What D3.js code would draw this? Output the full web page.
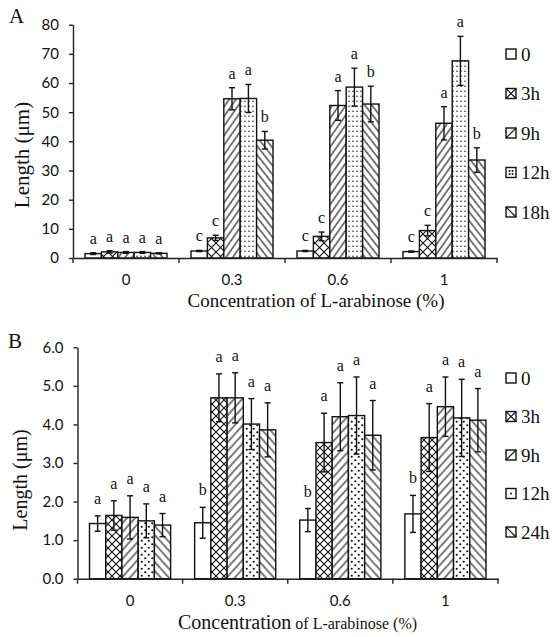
<!DOCTYPE html>
<html>
<head>
<meta charset="utf-8">
<script src="https://cdn.jsdelivr.net/npm/d3@7"></script>
<style>
  body { margin: 0; background: #fff; }
  .axis path, .axis line { stroke: #222; stroke-width: 1.4; }
  .axis text { font-family: Lato, "Open Sans", sans-serif; font-size: 15px; fill: #111; }
  .serif { font-family: "Liberation Serif", "DejaVu Serif", serif; fill: #111; }
</style>
</head>
<body>
<svg id="chart" width="554" height="637"></svg>
<script>
// categories shared by both panels
var categories = ["0", "0.3", "0.6", "1"];

// Panel A
var seriesA = ["0", "3h", "9h", "12h", "18h"];
var lengthA = [
    [1.5, 2.1, 1.9, 1.9, 1.6],
    [2.4, 6.9, 54.6, 54.7, 40.4],
    [2.4, 7.4, 52.3, 58.6, 52.8],
    [2.2, 9.4, 46.2, 67.6, 33.6]
];
var errorA = [
    [0.3, 0.4, 0.3, 0.3, 0.2],
    [0.2, 0.9, 3.8, 4.8, 3.0],
    [0.2, 1.5, 5.1, 6.5, 6.1],
    [0.2, 1.8, 5.7, 8.4, 4.2]
];
var lettersA = [
    ["a", "a", "a", "a", "a"],
    ["c", "c", "a", "a", "b"],
    ["c", "c", "a", "a", "b"],
    ["c", "c", "a", "a", "b"]
];
var ticksA = [0, 10, 20, 30, 40, 50, 60, 70, 80];

// Panel B
var seriesB = ["0", "3h", "9h", "12h", "24h"];
var lengthB = [
    [1.43, 1.64, 1.59, 1.50, 1.39],
    [1.45, 4.69, 4.69, 4.01, 3.86],
    [1.52, 3.53, 4.20, 4.23, 3.72],
    [1.68, 3.66, 4.46, 4.17, 4.11]
];
var errorB = [
    [0.20, 0.38, 0.56, 0.44, 0.30],
    [0.40, 0.62, 0.65, 0.66, 0.70],
    [0.30, 0.76, 0.88, 1.00, 0.90],
    [0.48, 0.88, 0.77, 1.00, 0.82]
];
var lettersB = [
    ["a", "a", "a", "a", "a"],
    ["b", "a", "a", "a", "a"],
    ["b", "a", "a", "a", "a"],
    ["b", "a", "a", "a", "a"]
];
var ticksB = [0, 1, 2, 3, 4, 5, 6];

var svg = d3.select("#chart");
var defs = svg.append("defs");

// hatch patterns
function hatch(id, angle, gap, w) {
    var p = defs.append("pattern")
        .attr("id", id)
        .attr("patternUnits", "userSpaceOnUse")
        .attr("width", gap)
        .attr("height", gap)
        .attr("patternTransform", "rotate(" + angle + ")");
    p.append("rect").attr("width", gap).attr("height", gap).attr("fill", "#fff");
    p.append("line")
        .attr("x1", gap / 2).attr("x2", gap / 2)
        .attr("y1", 0).attr("y2", gap)
        .attr("stroke", "#111").attr("stroke-width", w);
}

function cross(id, size, w) {
    var p = defs.append("pattern")
        .attr("id", id)
        .attr("patternUnits", "userSpaceOnUse")
        .attr("width", size)
        .attr("height", size);
    p.append("rect").attr("width", size).attr("height", size).attr("fill", "#fff");
    p.append("path")
        .attr("d", "M0,0L" + size + "," + size + "M" + size + ",0L0," + size)
        .attr("stroke", "#111").attr("stroke-width", w).attr("fill", "none");
}

function dots(id, w, h, r, stagger) {
    var p = defs.append("pattern")
        .attr("id", id)
        .attr("patternUnits", "userSpaceOnUse")
        .attr("width", w)
        .attr("height", h);
    p.append("rect").attr("width", w).attr("height", h).attr("fill", "#fff");
    p.append("circle").attr("cx", w / 4).attr("cy", h / 4).attr("r", r).attr("fill", "#111");
    if (stagger) {
        p.append("circle").attr("cx", w * 3 / 4).attr("cy", h * 3 / 4).attr("r", r).attr("fill", "#111");
    }
}

cross("crossA", 9, 1.1);
hatch("fwdA", 35, 5.5, 1.1);
dots("dotA", 4, 5, 0.75, false);
hatch("backA", -38, 5.5, 1.1);

cross("crossB", 8, 1.1);
hatch("fwdB", 42, 6, 1.1);
dots("dotB", 7, 7, 1.1, true);
hatch("backB", -42, 6, 1.1);

function drawPanel(p) {
    var x0 = d3.scaleBand().domain(categories).range([p.left, p.right]);
    var x1 = d3.scaleBand().domain(p.series).range([p.inset, x0.bandwidth() - p.inset]);
    var y = d3.scaleLinear().domain([0, p.max]).range([p.bottom, p.top]);

    var g = svg.append("g");

    var rows = [];
    categories.forEach(function (c, i) {
        p.series.forEach(function (s, j) {
            rows.push({c: c, s: s, j: j, v: p.values[i][j], e: p.errors[i][j], l: p.letters[i][j]});
        });
    });

    // bars
    g.selectAll(".bar")
        .data(rows)
        .enter()
        .append("rect")
        .attr("class", "bar")
        .attr("x", function (d) { return x0(d.c) + x1(d.s); })
        .attr("y", function (d) { return y(d.v); })
        .attr("width", x1.bandwidth())
        .attr("height", function (d) { return y(0) - y(d.v); })
        .attr("fill", function (d) { return p.fills[d.j]; })
        .attr("stroke", "#111")
        .attr("stroke-width", 1.4);

    // error bars
    var cx = function (d) { return x0(d.c) + x1(d.s) + x1.bandwidth() / 2; };
    var err = g.selectAll(".err")
        .data(rows)
        .enter()
        .append("g")
        .attr("class", "err")
        .attr("stroke", "#111")
        .attr("stroke-width", 1.4);
    err.append("line")
        .attr("x1", cx).attr("x2", cx)
        .attr("y1", function (d) { return y(d.v - d.e); })
        .attr("y2", function (d) { return y(d.v + d.e); });
    [-1, 1].forEach(function (sgn) {
        err.append("line")
            .attr("x1", function (d) { return cx(d) - 3; })
            .attr("x2", function (d) { return cx(d) + 3; })
            .attr("y1", function (d) { return y(d.v + sgn * d.e); })
            .attr("y2", function (d) { return y(d.v + sgn * d.e); });
    });

    // significance letters
    g.selectAll(".letter")
        .data(rows)
        .enter()
        .append("text")
        .attr("class", "letter serif")
        .attr("x", cx)
        .attr("y", function (d) { return y(d.v + d.e) - p.letterGap; })
        .attr("text-anchor", "middle")
        .style("font-size", "16px")
        .text(function (d) { return d.l; });

    // y axis
    g.append("g")
        .attr("class", "axis")
        .attr("transform", "translate(" + p.left + ",0)")
        .call(d3.axisLeft(y).tickValues(p.ticks).tickFormat(p.format).tickSize(4).tickSizeOuter(0).tickPadding(10));

    // x axis (labels centred, ticks on category boundaries)
    var xa = g.append("g")
        .attr("class", "axis")
        .attr("transform", "translate(0," + p.bottom + ")")
        .call(d3.axisBottom(x0).tickSize(0).tickSizeOuter(0).tickPadding(p.xPad));
    xa.selectAll(".bound")
        .data(categories.map(function (c) { return x0(c); }).concat([x0.range()[1]]))
        .enter()
        .append("line")
        .attr("class", "bound")
        .attr("x1", function (d) { return d; })
        .attr("x2", function (d) { return d; })
        .attr("y1", 0)
        .attr("y2", 5);

    // legend
    var leg = g.selectAll(".legend")
        .data(p.series)
        .enter()
        .append("g")
        .attr("class", "legend")
        .attr("transform", function (d, i) { return "translate(506," + (p.legTop + i * p.legStep) + ")"; });
    leg.append("rect")
        .attr("x", 0).attr("y", -5)
        .attr("width", 10).attr("height", 10)
        .attr("fill", "#fff")
        .attr("stroke", "#111")
        .attr("stroke-width", 1.4);
    leg.append("path")
        .attr("d", function (d, i) {
            if (i === 1) return "M0,-5L10,5M10,-5L0,5";
            if (i === 2) return "M0,5L10,-5";
            if (i === 4) return "M0,-5L10,5";
            return "";
        })
        .attr("stroke", "#111")
        .attr("stroke-width", 1.2)
        .attr("fill", "none");
    leg.filter(function (d, i) { return i === 3; })
        .selectAll("circle")
        .data(p.legDots)
        .enter()
        .append("circle")
        .attr("cx", function (d) { return d[0]; })
        .attr("cy", function (d) { return d[1]; })
        .attr("r", 1)
        .attr("fill", "#111");
    leg.append("text")
        .attr("class", "serif")
        .attr("x", 15)
        .attr("dy", "0.35em")
        .style("font-size", "19px")
        .text(function (d) { return d; });

    // y title
    svg.append("text")
        .attr("class", "serif")
        .attr("transform", "translate(" + p.yTitle[0] + "," + p.yTitle[1] + ") rotate(-90)")
        .attr("text-anchor", "middle")
        .style("font-size", p.yTitleSize)
        .text("Length (μm)");

    // panel letter
    svg.append("text")
        .attr("class", "serif")
        .attr("x", p.tag[0])
        .attr("y", p.tag[1])
        .style("font-size", "21px")
        .text(p.name);
}

drawPanel({
    name: "A", tag: [9, 23],
    series: seriesA, values: lengthA, errors: errorA, letters: lettersA,
    ticks: ticksA, format: d3.format("d"), max: 80,
    left: 73, right: 497, top: 24.7, bottom: 258, inset: 12, xPad: 16,
    fills: ["#fff", "url(#crossA)", "url(#fwdA)", "url(#dotA)", "url(#backA)"],
    letterGap: 9, legTop: 54, legStep: 39.5, legDots: [[3.5, -1.5], [6.5, -1.5], [3.5, 1.5], [6.5, 1.5]],
    yTitle: [29, 155], yTitleSize: "21px"
});

drawPanel({
    name: "B", tag: [8, 348],
    series: seriesB, values: lengthB, errors: errorB, letters: lettersB,
    ticks: ticksB, format: d3.format(".1f"), max: 6,
    left: 77.5, right: 498, top: 347.3, bottom: 578.7, inset: 12, xPad: 17,
    fills: ["#fff", "url(#crossB)", "url(#fwdB)", "url(#dotB)", "url(#backB)"],
    letterGap: 12, legTop: 378, legStep: 38.5, legDots: [[5, 0]],
    yTitle: [27, 480], yTitleSize: "20px"
});

// x titles
svg.append("text")
    .attr("class", "serif")
    .attr("x", 316)
    .attr("y", 307)
    .attr("text-anchor", "middle")
    .style("font-size", "19px")
    .text("Concentration of L-arabinose (%)");

var tb = svg.append("text")
    .attr("class", "serif")
    .attr("x", 178)
    .attr("y", 629);
tb.append("tspan").style("font-size", "20px").text("Concentration");
tb.append("tspan").style("font-size", "16px").text(" of L-arabinose (%)");
</script>
</body>
</html>
